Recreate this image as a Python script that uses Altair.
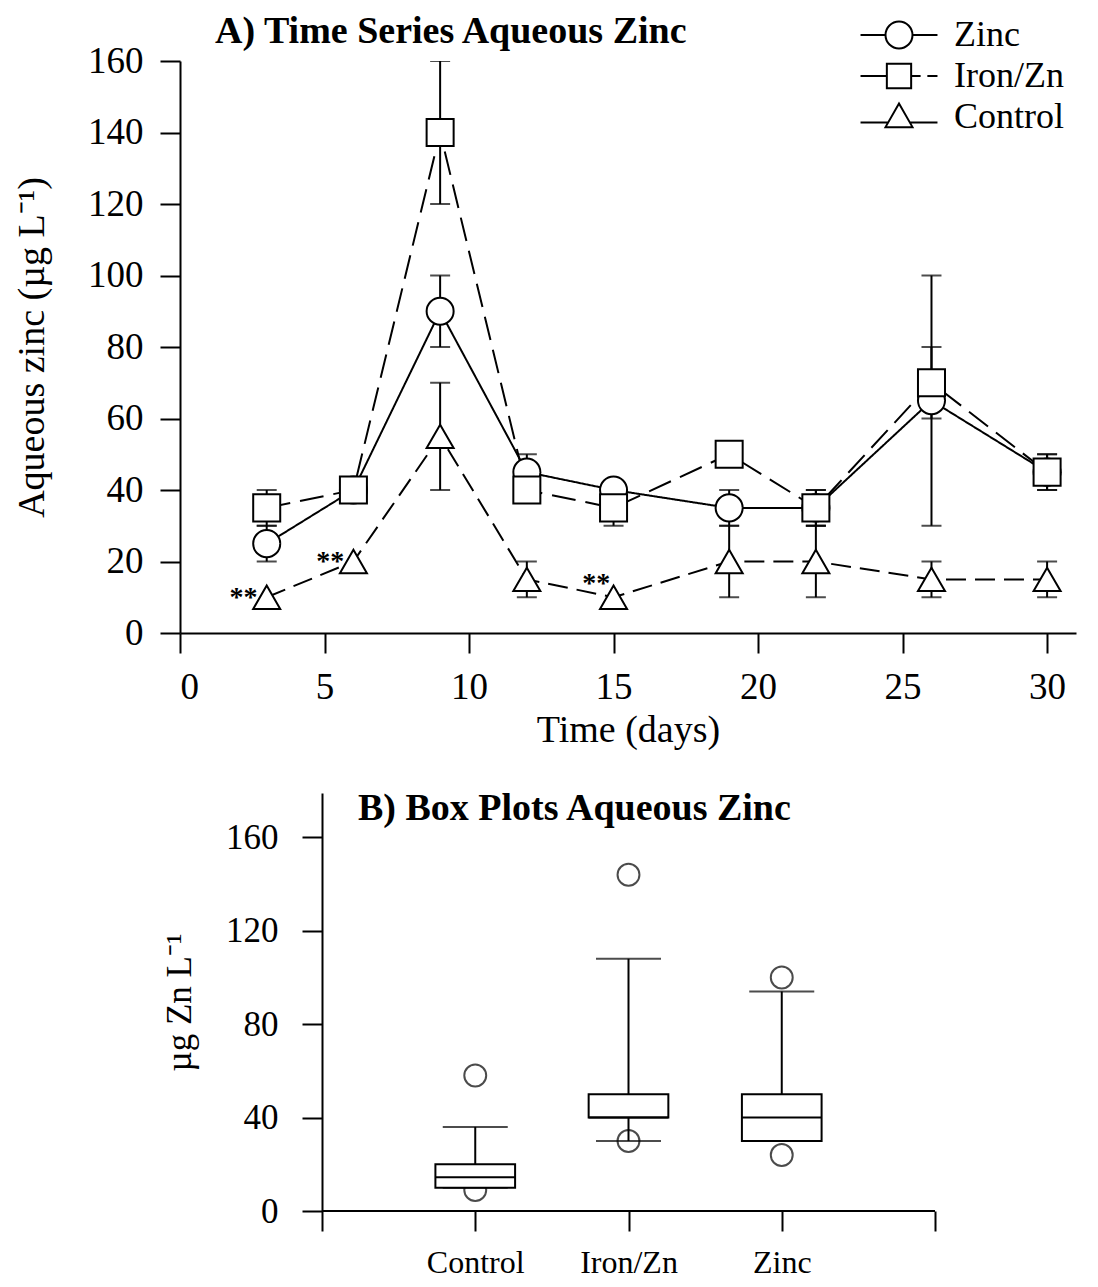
import altair as alt
import pandas as pd

FONT = "Liberation Serif"

# ---------------- Panel A data ----------------
days = [3, 6, 9, 12, 15, 19, 22, 26, 30]
series_names = ["Zinc", "Iron/Zn", "Control"]
zinc = [25, 40, 90, 45, 40, 35, 35, 65, 45]
zinc_err = [5, 0, 10, 5, 0, 5, 5, 35, 5]
iron = [35, 40, 140, 40, 35, 50, 35, 70, 45]
iron_err = [5, 0, 20, 0, 5, 0, 5, 10, 5]
control = [10, 20, 55, 15, 10, 20, 20, 15, 15]
control_err = [0, 0, 15, 5, 0, 10, 10, 5, 5]

star_day = [2.2, 5.2, 14.4]
star_val = [12, 22, 16]

title_a = "A)  Time Series Aqueous Zinc"
title_b = "B) Box Plots Aqueous Zinc"

# ---------------- Panel B data ----------------
box_labels = ["Control", "Iron/Zn", "Zinc"]
box_pos = [1, 2, 3]
box_q1 = [10, 40, 30]
box_med = [14.5, 40, 40]
box_q3 = [20, 50, 50]
box_lo = [10, 30, 30]
box_hi = [36, 108, 94]
out_group = ["Control", "Control", "Iron/Zn", "Iron/Zn", "Zinc", "Zinc"]
out_val = [58, 9, 144, 30, 100, 24]

# ---------------- tables ----------------
rows = []
for name, vals, errs in zip(series_names, [zinc, iron, control],
                            [zinc_err, iron_err, control_err]):
    for d, v, e in zip(days, vals, errs):
        rows.append({"series": name, "day": d, "value": v, "err": e})
ts = pd.DataFrame(rows)
stars = pd.DataFrame({"day": star_day, "value": star_val})

box_df = pd.DataFrame({"label": box_labels, "pos": box_pos, "q1": box_q1,
                       "med": box_med, "q3": box_q3, "lo": box_lo, "hi": box_hi})
pos_map = dict(zip(box_labels, box_pos))
out_df = pd.DataFrame({"group": out_group, "val": out_val})
out_df["pos"] = out_df["group"].map(pos_map)

# ---------------- Panel A ----------------
x_axis = alt.Axis(values=list(range(0, 31, 5)), title="Time (days)",
                  tickSize=20, labelPadding=16, titlePadding=6,
                  labelFontSize=37, titleFontSize=38)
y_axis = alt.Axis(values=list(range(0, 161, 20)),
                  title="Aqueous zinc (µg L⁻¹)",
                  tickSize=20, labelPadding=17, titlePadding=36,
                  labelFontSize=37, titleFontSize=38)
x_scale = alt.Scale(domain=[0, 31], nice=False)
y_scale = alt.Scale(domain=[0, 160], nice=False)


def X(field):
    return alt.X(field, scale=x_scale, axis=x_axis)


def Y(field):
    return alt.Y(field, scale=y_scale, axis=y_axis)


base = alt.Chart(ts)

lines = base.mark_line(color="black", strokeWidth=2).encode(
    x=X("day:Q"), y=Y("value:Q"),
    detail="series:N",
    strokeDash=alt.StrokeDash("series:N",
                              scale=alt.Scale(domain=series_names,
                                              range=[[1, 0], [24, 10], [20, 9]]),
                              legend=None),
)

errs = base.transform_filter("datum.err > 0").transform_calculate(
    lo="datum.value - datum.err", hi="datum.value + datum.err")

err_rules = errs.mark_rule(color="black", strokeWidth=2, clip=True).encode(
    x=X("day:Q"), y=Y("lo:Q"), y2="hi:Q")

err_caps = errs.transform_fold(["lo", "hi"], as_=["end", "capv"]).mark_tick(
    orient="horizontal", color="black", size=20, thickness=2, clip=True
).encode(x=X("day:Q"), y=Y("capv:Q"))

points = base.mark_point(filled=True, fill="white", stroke="black",
                         strokeWidth=2, size=730, opacity=1).encode(
    x=X("day:Q"), y=Y("value:Q"),
    shape=alt.Shape("series:N",
                    scale=alt.Scale(domain=series_names,
                                    range=["circle", "square", "triangle-up"]),
                    legend=None),
)

path_c = "M-2.85,0L-1,0M1,0L2.85,0M-1,0A1,1,0,1,1,1,0A1,1,0,1,1,-1,0Z"
path_s = ("M-2.85,0L-0.9,0M0.9,0L1.6,0M2.1,0L2.85,0"
          "M-0.9,-0.9L0.9,-0.9L0.9,0.9L-0.9,0.9Z")
path_t = "M-2.85,0.4L-0.8,0.4M0.8,0.4L2.85,0.4M0,-1L1,0.75L-1,0.75Z"

legend_layer = base.transform_filter("false").mark_point(
    color="black", strokeWidth=2, filled=False).encode(
    shape=alt.Shape("series:N",
                    scale=alt.Scale(domain=series_names,
                                    range=[path_c, path_s, path_t]),
                    legend=alt.Legend(orient="none", legendX=701, legendY=-44,
                                      title=None, symbolSize=729,
                                      symbolStrokeWidth=2,
                                      symbolStrokeColor="black",
                                      symbolFillColor="transparent",
                                      symbolOpacity=1,
                                      labelFont=FONT, labelFontSize=36,
                                      labelColor="black", labelOffset=37,
                                      rowPadding=5, padding=0)),
)

star_text = alt.Chart(stars).mark_text(text="**", font=FONT, fontSize=28,
                                       fontWeight="bold", color="black",
                                       baseline="middle", dy=8).encode(
    x=X("day:Q"), y=Y("value:Q"))

title_a_text = alt.Chart(pd.DataFrame({"t": [title_a]})).mark_text(
    align="left", baseline="alphabetic", font=FONT, fontSize=38,
    fontWeight="bold", color="black").encode(
    text="t:N", x=alt.value(35), y=alt.value(-18))

top = alt.layer(lines, err_rules, err_caps, points, star_text, title_a_text,
                legend_layer).resolve_scale(shape="independent").properties(
    width=896, height=572)

# ---------------- Panel B ----------------
SHIFT = 142          # px between panel A's y axis and panel B's y axis
BW = 613             # px of panel B's own axis length
label_expr = " : ".join(
    f"datum.value == {p} ? '{l}'" for p, l in zip(box_pos, box_labels)) + " : ''"
bx_axis = alt.Axis(values=[0, 1, 2, 3, 4], labelExpr=label_expr, title=None,
                   tickSize=20, labelPadding=16, labelFontSize=32, domain=False)
by_axis = alt.Axis(values=[0, 40, 80, 120, 160], title="µg Zn L⁻¹",
                   tickSize=20, labelPadding=24, titlePadding=28,
                   labelFontSize=35, titleFontSize=35, offset=-SHIFT)
bx_scale = alt.Scale(domain=[-SHIFT / BW * 4, 4], nice=False)
by_scale = alt.Scale(domain=[0, 179], nice=False)


def BX(field):
    return alt.X(field, scale=bx_scale, axis=bx_axis)


def BY(field):
    return alt.Y(field, scale=by_scale, axis=by_axis)


bbase = alt.Chart(box_df)

outliers = alt.Chart(out_df).mark_point(shape="circle", size=480, filled=False,
                                        color="black", strokeWidth=2).encode(
    x=BX("pos:Q"), y=BY("val:Q"))

whisk = bbase.mark_rule(color="black", strokeWidth=2).encode(
    x=BX("pos:Q"), y=BY("lo:Q"), y2="hi:Q")

caps = bbase.transform_fold(["lo", "hi"], as_=["end", "capv"]).mark_tick(
    orient="horizontal", color="black", size=65, thickness=2).encode(
    x=BX("pos:Q"), y=BY("capv:Q"))

boxes = bbase.transform_calculate(
    x1="datum.pos - 0.26", x2="datum.pos + 0.26").mark_rect(
    fill="white", stroke="black", strokeWidth=2).encode(
    x=BX("x1:Q"), x2="x2:Q", y=BY("q1:Q"), y2="q3:Q")

medians = bbase.mark_rule(color="black", strokeWidth=2).transform_calculate(
    m1="datum.pos - 0.26", m2="datum.pos + 0.26").encode(
    x=BX("m1:Q"), x2="m2:Q", y=BY("med:Q"))

baseline = alt.Chart(pd.DataFrame({"a": [0]})).mark_rule(
    color="black", strokeWidth=2).encode(
    x=alt.datum(0), x2=alt.datum(4), y=alt.datum(0))

title_b_text = alt.Chart(pd.DataFrame({"t": [title_b]})).mark_text(
    align="left", baseline="alphabetic", font=FONT, fontSize=38,
    fontWeight="bold", color="black").encode(
    text="t:N", x=alt.value(SHIFT + 36), y=alt.value(27))

bottom = alt.layer(outliers, whisk, caps, boxes, medians, baseline,
                   title_b_text).properties(width=SHIFT + BW, height=418)

chart = alt.vconcat(top, bottom, spacing=41).properties(
    padding={"left": 5, "top": 5, "right": 5, "bottom": 0},
).configure_view(stroke=None).configure_axis(
    domainColor="black", domainWidth=2, tickColor="black", tickWidth=2,
    labelColor="black", titleColor="black", labelFont=FONT, titleFont=FONT,
    titleFontWeight="normal", grid=False,
)

chart.save("out.html", embed_options={"renderer": "svg", "actions": False})
